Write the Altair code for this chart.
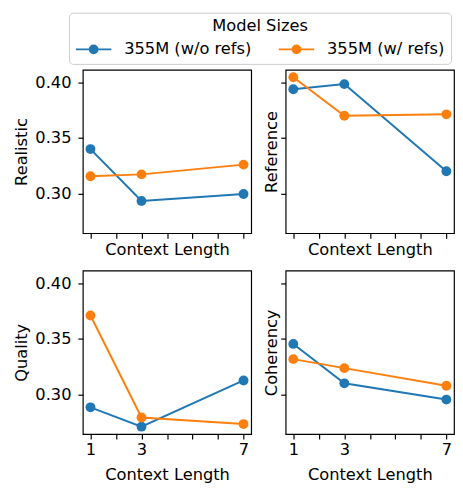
import altair as alt
import pandas as pd

context_lengths = [1, 3, 7]
series_names = ["355M (w/o refs)", "355M (w/ refs)"]
series_colors = ["#1f77b4", "#ff7f0e"]

realistic_wo = [0.3400, 0.2932, 0.2995]
realistic_w = [0.3155, 0.3172, 0.3260]
reference_wo = [0.3939, 0.3985, 0.3200]
reference_w = [0.4047, 0.3700, 0.3713]
quality_wo = [0.2883, 0.2709, 0.3125]
quality_w = [0.3710, 0.2791, 0.2732]
coherency_wo = [0.3454, 0.3099, 0.2953]
coherency_w = [0.3317, 0.3236, 0.3077]

x_ticks = [1, 2, 3, 4, 5, 6, 7]
y_ticks = [0.30, 0.35, 0.40]
x_domain = [0.7, 7.3]
y_domain = [0.2642, 0.4114]

FONT = "DejaVu Sans"
FS = 16.5
W = 171
H = 166


def circle(cx, r):
    return (f"M{cx + r:.4f},0A{r:.4f},{r:.4f},0,1,1,{cx - r:.4f},0"
            f"A{r:.4f},{r:.4f},0,1,1,{cx + r:.4f},0Z")


# legend symbol: a line with a dot on it (unit = 13px)
cx = 0.3846
legend_path = "M-1,0L1.769,0" + circle(cx, 0.0769) + circle(cx, 0.1923) + circle(cx, 0.3077)

legend = alt.Legend(
    title="Model Sizes", orient="none", legendX=-14, legendY=-58,
    direction="horizontal", titleAnchor="middle", titleAlign="center",
    titleFont=FONT, titleFontSize=FS, titleFontWeight="normal", titleColor="black",
    labelFont=FONT, labelFontSize=FS, labelColor="black", labelLimit=300,
    symbolType=legend_path, symbolSize=676, symbolStrokeWidth=2, symbolOpacity=1,
    labelOffset=22, columnPadding=23, padding=6, titlePadding=0.5,
    strokeColor="#cccccc", fillColor="white", cornerRadius=4,
)


def panel(title, wo, w, bottom, left):
    df = pd.DataFrame({
        "ctx": context_lengths * 2,
        "score": wo + w,
        "model": [series_names[0]] * 3 + [series_names[1]] * 3,
    })
    xaxis = alt.Axis(
        title="Context Length", values=x_ticks, labels=bottom, format="d",
        labelExpr="datum.value == 1 || datum.value == 3 || datum.value == 7 ? datum.label : ''",
        labelOverlap=False, labelFlush=False,
        labelPadding=3, titlePadding=8.5 if bottom else 3,
    )
    yaxis = alt.Axis(
        title=title, values=y_ticks, labels=left, format=".2f",
        labelPadding=7, titlePadding=5 if left else 1,
    )
    return alt.Chart(df).mark_line(
        strokeWidth=2,
        point=alt.OverlayMarkDef(filled=True, size=100, opacity=1),
    ).encode(
        x=alt.X("ctx:Q", scale=alt.Scale(domain=x_domain, nice=False, zero=False), axis=xaxis),
        y=alt.Y("score:Q", scale=alt.Scale(domain=y_domain, nice=False, zero=False), axis=yaxis),
        color=alt.Color("model:N", scale=alt.Scale(domain=series_names, range=series_colors),
                        legend=legend),
    ).properties(width=W, height=H)


p1 = panel("Realistic", realistic_wo, realistic_w, False, True)
p2 = panel("Reference", reference_wo, reference_w, False, False)
p3 = panel("Quality", quality_wo, quality_w, True, True)
p4 = panel("Coherency", coherency_wo, coherency_w, True, False)

top = alt.hconcat(p1, p2, spacing=10).resolve_scale(color="shared")
bot = alt.hconcat(p3, p4, spacing=10).resolve_scale(color="shared")

chart = alt.vconcat(top, bot, spacing=11).resolve_scale(color="shared").properties(
    padding={"left": 5, "top": 0, "right": 0, "bottom": 0}
).configure_axis(
    labelFont=FONT, titleFont=FONT, labelFontSize=FS, titleFontSize=FS,
    labelColor="black", titleColor="black", titleFontWeight="normal",
    tickColor="black", tickSize=5, tickWidth=1.2, domain=False, grid=False,
).configure_view(stroke="black", strokeWidth=1.2)

chart.save("out.html", embed_options={"renderer": "svg", "actions": False})
